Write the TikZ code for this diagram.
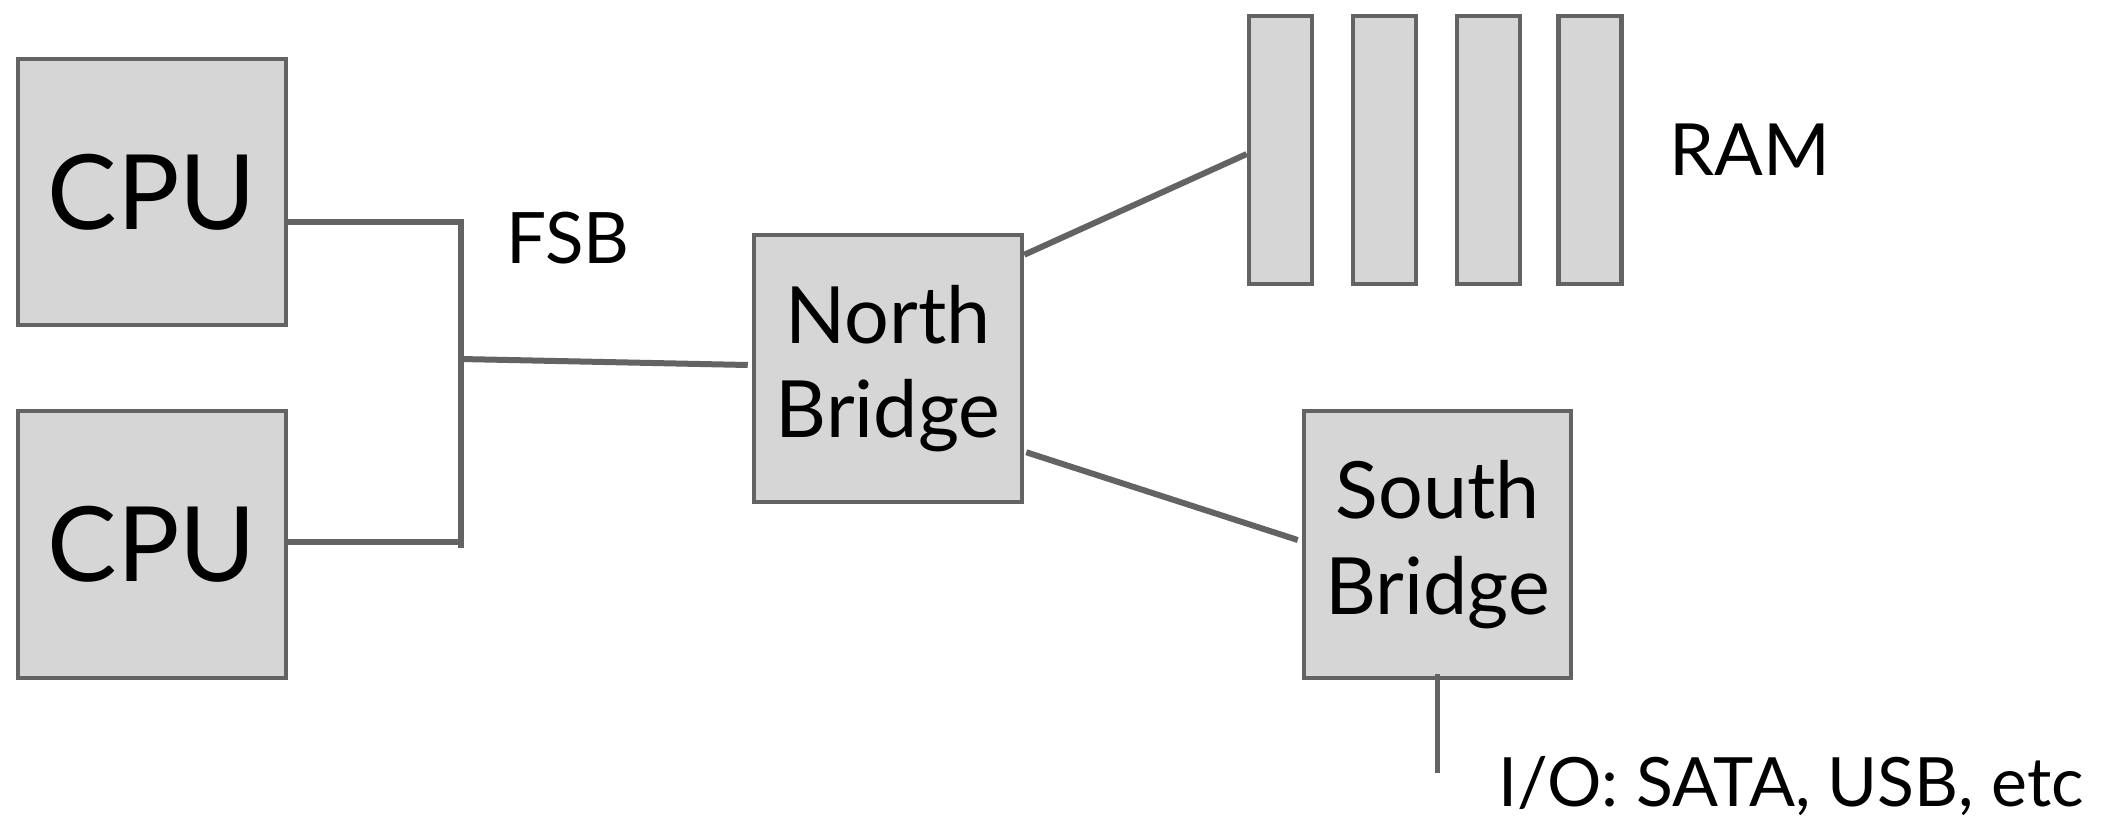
\documentclass[tikz,border=0pt]{standalone}
\usepackage{fontspec}
\setmainfont{Lato}
\definecolor{linegray}{HTML}{636363}
\definecolor{boxfill}{HTML}{D6D6D6}
\begin{document}
\begin{tikzpicture}[x=1pt,y=-1pt,
  box/.style={draw=linegray, fill=boxfill, line width=4.5pt, inner sep=0pt, align=center},
  wire/.style={draw=linegray, line width=6pt, line join=miter},
  thinwire/.style={draw=linegray, line width=5pt},
  lbl/.style={inner sep=0pt, anchor=base}]
\useasboundingbox (0,0) rectangle (2110,822);
% boxes
\node[box, minimum width=268pt, minimum height=266pt, font=\fontsize{104}{110}\selectfont] (cpu1) at (152,192) {CPU};
\node[box, minimum width=268pt, minimum height=267pt, font=\fontsize{104}{110}\selectfont] (cpu2) at (152,544.5) {CPU};
\node[box, minimum width=268pt, minimum height=267pt, font=\fontsize{79}{94}\selectfont] (nb) at (888,368.5) {North\\Bridge};
\node[box, minimum width=267pt, minimum height=267pt, font=\fontsize{79}{96}\selectfont] (sb) at (1437.5,544.5) {South\\Bridge};
\foreach \i/\x in {1/1280.5, 2/1384.5, 3/1488.5, 4/1590}
  \node[box, minimum width=63pt, minimum height=268pt] (ram\i) at (\x,150) {};
% labels
\node[lbl, font=\fontsize{71}{80}\selectfont] (fsb) at (568,263) {FSB};
\node[lbl, font=\fontsize{72}{80}\selectfont] (ramlbl) at (1750,175.5) {RAM};
\node[lbl, font=\fontsize{68}{80}\selectfont] (io) at (1791,806) {I/O: SATA, USB, etc};
% bus
\coordinate (busTop) at (461,222);
\coordinate (busBot) at (461,548);
\coordinate (busMid) at (461,359);
\coordinate (ioEnd) at (1437.5,773);
\draw[wire] (cpu1.east |- busTop) -- (busTop) -- (busBot);
\draw[wire] (cpu2.east |- 0,542) -- (461,542);
\draw[wire] (busMid) -- ([xshift=-4pt,yshift=3.5pt]nb.west);
\draw[wire] ([yshift=-22pt]nb.north east) -- ([yshift=-4pt]ram1.west);
\draw[wire] ([xshift=2pt,yshift=52pt]nb.south east) -- ([xshift=-4pt,yshift=4.5pt]sb.west);
\draw[thinwire] ([yshift=6pt]sb.south) -- (ioEnd);
\end{tikzpicture}
\end{document}
